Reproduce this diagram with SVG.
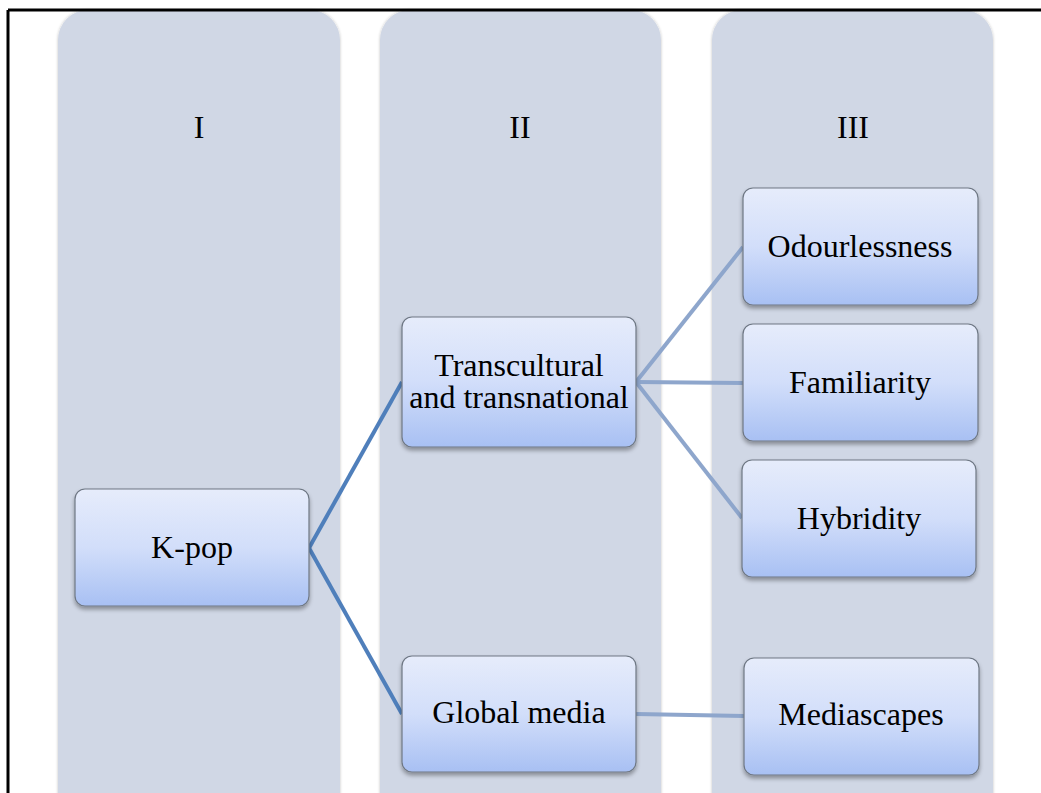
<svg xmlns="http://www.w3.org/2000/svg" width="1041" height="793" viewBox="0 0 1041 793">
<defs>
<linearGradient id="ng" x1="0" y1="0" x2="0" y2="1">
<stop offset="0" stop-color="#e6ecfb"/>
<stop offset="0.5" stop-color="#d2defa"/>
<stop offset="1" stop-color="#a8c0f3"/>
</linearGradient>
<filter id="sh" x="-10%" y="-10%" width="120%" height="130%">
<feGaussianBlur in="SourceAlpha" stdDeviation="2"/>
<feOffset dx="0" dy="3"/>
<feComponentTransfer><feFuncA type="linear" slope="0.35"/></feComponentTransfer>
<feMerge><feMergeNode/><feMergeNode in="SourceGraphic"/></feMerge>
</filter>
<filter id="csh" x="-5%" y="-5%" width="110%" height="110%">
<feGaussianBlur in="SourceAlpha" stdDeviation="1.5"/>
<feOffset dx="0" dy="0"/>
<feComponentTransfer><feFuncA type="linear" slope="0.25"/></feComponentTransfer>
<feMerge><feMergeNode/><feMergeNode in="SourceGraphic"/></feMerge>
</filter>
</defs>
<style>
.col{fill:#d0d7e5;}
.node{fill:url(#ng);stroke:#6e7784;stroke-width:1.2;}
.t{font-family:"Liberation Serif","Times New Roman",serif;font-size:32px;fill:#000;text-anchor:middle;}
.c1{stroke:#4f7fbb;stroke-width:4;fill:none;}
.c2{stroke:#8ea6cc;stroke-width:4;fill:none;}
</style>
<rect x="0" y="0" width="1041" height="793" fill="#fff"/>
<g id="columns">
<g id="col-I"><rect class="col" x="58" y="10" width="282" height="820" rx="30" filter="url(#csh)"/><text class="t" x="199" y="138">I</text></g>
<g id="col-II"><rect class="col" x="380" y="10" width="281" height="820" rx="30" filter="url(#csh)"/><text class="t" x="520" y="138">II</text></g>
<g id="col-III"><rect class="col" x="712" y="10" width="281" height="820" rx="30" filter="url(#csh)"/><text class="t" x="853" y="138">III</text></g>
</g>
<path d="M8 10 H1041 M8 10 V793" stroke="#000" stroke-width="3" fill="none"/>
<g id="connectors">
<path class="c1" d="M309 548 L402 382"/>
<path class="c1" d="M309 548 L402 714"/>
<path class="c2" d="M636 382 L743 247"/>
<path class="c2" d="M636 382 L743 383"/>
<path class="c2" d="M636 382 L742 518"/>
<path class="c2" d="M636 714 L744 716"/>
</g>
<g id="kpop"><rect class="node" x="75" y="489" width="234" height="117" rx="10" filter="url(#sh)"/><text class="t" x="192" y="558">K-pop</text></g>
<g id="transcultural"><rect class="node" x="402" y="317" width="234" height="130" rx="10" filter="url(#sh)"/><text class="t" x="519" y="376">Transcultural</text><text class="t" x="519" y="408">and transnational</text></g>
<g id="globalmedia"><rect class="node" x="402" y="656" width="234" height="116" rx="10" filter="url(#sh)"/><text class="t" x="519" y="723">Global media</text></g>
<g id="odourlessness"><rect class="node" x="743" y="188" width="235" height="117" rx="10" filter="url(#sh)"/><text class="t" x="860" y="257">Odourlessness</text></g>
<g id="familiarity"><rect class="node" x="743" y="324" width="235" height="117" rx="10" filter="url(#sh)"/><text class="t" x="860" y="393">Familiarity</text></g>
<g id="hybridity"><rect class="node" x="742" y="460" width="234" height="117" rx="10" filter="url(#sh)"/><text class="t" x="859" y="529">Hybridity</text></g>
<g id="mediascapes"><rect class="node" x="744" y="658" width="235" height="117" rx="10" filter="url(#sh)"/><text class="t" x="861" y="725">Mediascapes</text></g>
</svg>
